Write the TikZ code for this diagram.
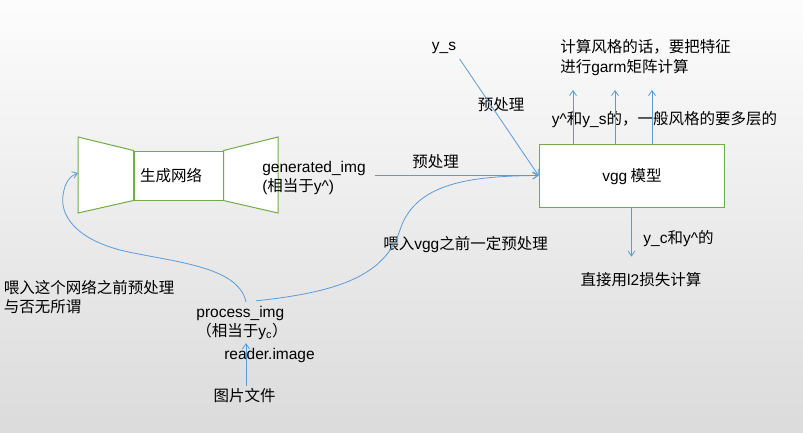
\documentclass[tikz,border=0pt]{standalone}
\usepackage{fontspec}
\setmainfont{Noto Sans CJK SC}
\newfontfamily\lat{Liberation Sans}
\usetikzlibrary{arrows.meta}
\definecolor{linkblue}{HTML}{5B9BD5}
\definecolor{boxgreen}{HTML}{70AD47}
\begin{document}
\begin{tikzpicture}[x=1pt,y=-1pt,
  txt/.style={inner sep=0pt, font=\fontsize{15.5}{19.5}\selectfont, align=left},
  gbox/.style={draw=boxgreen, line width=1pt, fill=white},
  arr/.style={draw=linkblue, line width=0.8pt, -{Straight Barb[length=5pt,width=7pt]}},
  ln/.style={draw=linkblue, line width=0.8pt}]
% backdrop
\shade[top color=black!1, middle color=black!5, bottom color=black!14] (0,0) rectangle (803,432);
\useasboundingbox (0,0) rectangle (803,432);

% generator network: box with an encoder and a decoder wing
\node[gbox, minimum width=89pt, minimum height=49pt, inner sep=0pt] (net) at (178.5,175.5) {};
\draw[gbox] (net.north west) -- (78,137) -- (78,213) -- (net.south west) -- cycle;
\draw[gbox] (net.north east) -- (278,137) -- (278,213) -- (net.south east) -- cycle;
\node[txt] (netlabel) at (171,176) {生成网络};

% VGG model
\node[gbox, minimum width=185pt, minimum height=63pt, inner sep=0pt] (vgg) at (631.5,175.5) {};
\node[txt] (vgglabel) at (632,177) {{\lat vgg} 模型};

% text labels
\node[txt] (gen) at (314,178) {{\lat generated\_img}\\{\lat (}相当于{\lat y\textasciicircum)}};
\node[txt] (pre1) at (435.5,162) {预处理};
\node[txt] (ys) at (444,48) {\lat y\_s};
\node[txt] (pre2) at (501,105) {预处理};
\node[txt] (gram) at (645.5,57.5) {计算风格的话，要把特征\\进行{\lat garm}矩阵计算};
\node[txt] (style) at (664.5,120) {{\lat y\textasciicircum}和{\lat y\_s}的，一般风格的要多层的};
\node[txt] (content) at (678.5,239) {{\lat y\_c}和{\lat y\textasciicircum}的};
\node[txt] (l2) at (641,280) {直接用{\lat l2}损失计算};
\node[txt] (feed) at (465.5,245) {喂入{\lat vgg}之前一定预处理};
\node[txt] (note) at (89,297) {喂入这个网络之前预处理\\与否无所谓};
\node[txt] (proc) at (242,323) {{\lat process\_img}\\（相当于{\lat y\textsubscript{c}}）};
\node[txt] (reader) at (269.5,355) {\lat reader.image};
\node[txt] (pic) at (244.5,396) {图片文件};

% arrow tips of the style outputs
\coordinate (up1) at (573,90);
\coordinate (up2) at (615,90);
\coordinate (up3) at (652,90);

% connectors
\draw[arr, shorten <=9pt] (gen.east |- vgg.west) -- (vgg.west);
\draw[arr, shorten <=6pt] (ys.south east) -- (vgg.west);
\draw[arr] (up1 |- vgg.north) -- (up1);
\draw[arr] (up2 |- vgg.north) -- (up2);
\draw[arr] (up3 |- vgg.north) -- (up3);
\draw[arr, shorten >=16pt] (vgg.south) -- (vgg.south |- l2.north);
\draw[arr, shorten <=3pt, shorten >=3pt] (pic.north -| 246,0) -- (proc.south -| 246,0);
\draw[arr] ([xshift=14pt,yshift=5pt]proc.north)
  .. controls (340,292) and (385,275) .. (400,230)
  .. controls (415,183) and (470,176) .. (vgg.west);
\draw[arr] ([xshift=4pt,yshift=4pt]proc.north)
  .. controls (238,265) and (170,262) .. (120,250)
  .. controls (75,238) and (60,215) .. (63,195)
  .. controls (65,182) and (70,176) .. (78,173);
\end{tikzpicture}
\end{document}
